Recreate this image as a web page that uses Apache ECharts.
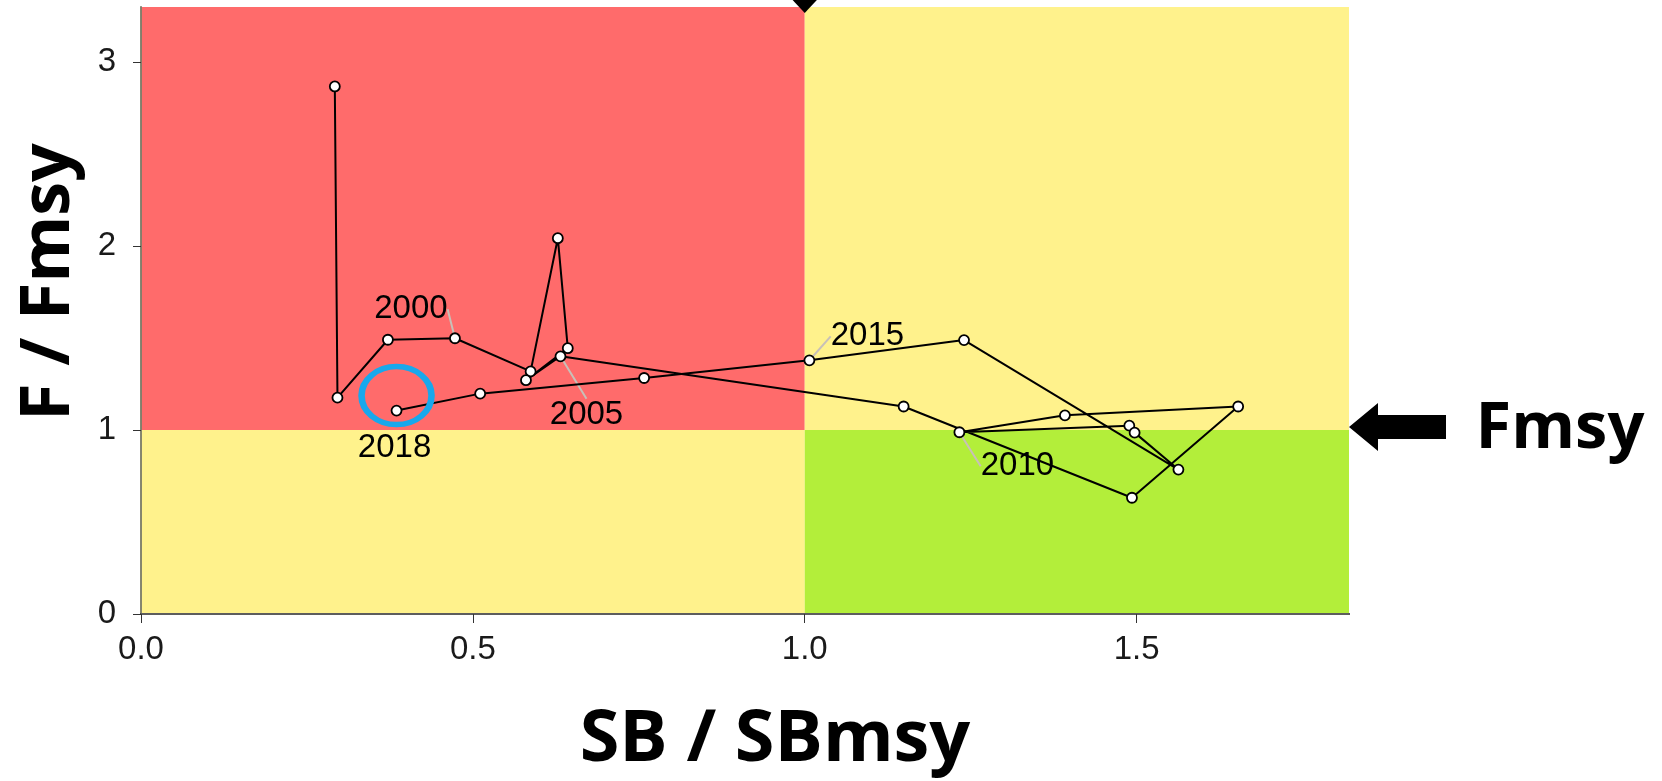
<!DOCTYPE html>
<html><head><meta charset="utf-8">
<script src="https://cdn.jsdelivr.net/npm/echarts@6/dist/echarts.min.js"></script>
<style>html,body{margin:0;padding:0;background:#fff}#c{width:1662px;height:781px}</style>
</head><body><div id="c"></div>
<script>
// ---- data ----
const years   = [1997,1998,1999,2000,2001,2002,2003,2004,2005,2006,2007,2008,2009,2010,2011,2012,2013,2014,2015,2016,2017,2018];
const sbRatio = [0.292,0.296,0.372,0.473,0.587,0.628,0.643,0.580,0.632,1.149,1.493,1.653,1.392,1.233,1.489,1.497,1.563,1.240,1.007,0.758,0.511,0.385];
const fRatio  = [2.868,1.176,1.491,1.499,1.319,2.043,1.445,1.271,1.401,1.128,0.632,1.128,1.080,0.988,1.024,0.986,0.785,1.489,1.379,1.283,1.198,1.106];
const labelledYears = [2000,2005,2010,2015,2018];
const circledYear = 2018;
const xTicks = [0,0.5,1,1.5];
const yTicks = [0,1,2,3];
const xMax = 1.82, yMax = 3.3;
const sbRef = 1, fRef = 1;
const xTitle = 'SB / SBmsy', yTitle = 'F / Fmsy', refLabel = 'Fmsy';

// ---- styles / layout ----
const RED = '#FF6B6B', YEL = '#FFF28C', GRN = '#B3EE3A';
const labelOffsets = {2000:[-44,-29], 2005:[26,59], 2010:[58,34], 2015:[58,-24], 2018:[-2,37]};
const leader = {2000:true, 2005:true, 2010:true, 2015:true, 2018:false};

const chart = echarts.init(document.getElementById('c'), null, {renderer:'canvas'});
const pts = years.map((y,i)=>[sbRatio[i], fRatio[i], y]);
const labelData = labelledYears.map(y=>{
  const i = years.indexOf(y);
  return {value:[sbRatio[i], fRatio[i], y], labelLine:{show:leader[y]}};
});
const ci = years.indexOf(circledYear);

const tickFont = {fontFamily:'Liberation Sans, Arial, sans-serif', fontSize:33, color:'#1a1a1a'};
chart.setOption({
  animation:false,
  backgroundColor:'#fff',
  grid:{left:141, right:313, top:7, bottom:167, show:false},
  xAxis:[{
    type:'value', min:0, max:xMax, interval:0.5, z:5,
    axisLine:{show:true, onZero:false, lineStyle:{color:'#111', width:2}},
    axisTick:{show:true, length:9, lineStyle:{color:'#333'}, customValues:xTicks},
    axisLabel:{show:true, margin:19, customValues:xTicks, formatter:v=>v.toFixed(1), ...tickFont},
    splitLine:{show:false}
  },{
    type:'value', position:'top', min:0, max:xMax, z:5,
    axisLine:{show:true, lineStyle:{color:'#777', width:1.5}},
    axisTick:{show:false}, axisLabel:{show:false}, splitLine:{show:false}
  }],
  yAxis:[{
    type:'value', min:0, max:yMax, interval:1, z:5,
    axisLine:{show:true, onZero:false, lineStyle:{color:'#111', width:1.5}},
    axisTick:{show:true, length:8, lineStyle:{color:'#333'}, customValues:yTicks},
    axisLabel:{show:true, margin:25, customValues:yTicks, formatter:v=>String(v), ...tickFont},
    splitLine:{show:false}
  },{
    type:'value', position:'right', min:0, max:yMax, z:5,
    axisLine:{show:true, lineStyle:{color:'#9a9a80', width:1.5}},
    axisTick:{show:false}, axisLabel:{show:false}, splitLine:{show:false}
  }],
  series:[
    {
      type:'line', data:[], z:1, silent:true,
      markArea:{silent:true, itemStyle:{opacity:1}, data:[
        [{xAxis:0, yAxis:fRef, itemStyle:{color:RED}}, {xAxis:sbRef, yAxis:yMax}],
        [{xAxis:sbRef, yAxis:fRef, itemStyle:{color:YEL}}, {xAxis:xMax, yAxis:yMax}],
        [{xAxis:0, yAxis:0, itemStyle:{color:YEL}}, {xAxis:sbRef, yAxis:fRef}],
        [{xAxis:sbRef, yAxis:0, itemStyle:{color:GRN}}, {xAxis:xMax, yAxis:fRef}]
      ]}
    },
    {
      type:'scatter', data:labelData, z:2, symbolSize:1, itemStyle:{color:'rgba(0,0,0,0)', opacity:1},
      label:{show:true, position:'inside', formatter:p=>String(p.value[2]),
        fontFamily:'Liberation Sans, Arial, sans-serif', fontSize:33, color:'#000', textBorderWidth:0},
      labelLine:{show:true, lineStyle:{color:'#c8c0b8', width:2}},
      labelLayout:p=>{const y = labelledYears[p.dataIndex]; const o = labelOffsets[y]; return {dx:o[0], dy:o[1]};}
    },
    {
      type:'line', data:pts, z:3, showSymbol:true, symbol:'circle', symbolSize:10,
      lineStyle:{color:'#000', width:2},
      itemStyle:{color:'#fff', borderColor:'#000', borderWidth:1.8}
    },
    {
      type:'scatter', z:4, data:[[sbRatio[ci], fRatio[ci]]], symbol:'circle', symbolSize:[70,58], symbolOffset:[0,-15],
      itemStyle:{color:'rgba(0,0,0,0)', borderColor:'#18A8EC', borderWidth:6, opacity:1}
    }
  ]
});

const pTop = chart.convertToPixel({gridIndex:0}, [sbRef, yMax]);
const pF = chart.convertToPixel({gridIndex:0}, [xMax, fRef]);
const tx = pF[0], ty = pF[1]-3;
chart.setOption({graphic:[
  {type:'polygon', z:20, shape:{points:[[pTop[0]-14,-2],[pTop[0]+14,-2],[pTop[0], pTop[1]+6]]}, style:{fill:'#000'}},
  {type:'polygon', z:20, shape:{points:[[tx,ty],[tx+29,ty-24],[tx+29,ty-12],[tx+97,ty-12],[tx+97,ty+12],[tx+29,ty+12],[tx+29,ty+24]]}, style:{fill:'#000'}},
  {type:'text', z:20, x:1560, y:ty+2, style:{text:refLabel, fill:'#000', font:'bold 65px "Open Sans", sans-serif', textAlign:'center', textVerticalAlign:'middle'}},
  {type:'text', z:20, x:775, y:740, style:{text:xTitle, fill:'#000', font:'bold 72px "Open Sans", sans-serif', textAlign:'center', textVerticalAlign:'middle'}},
  {type:'text', z:20, x:50, y:282, rotation:Math.PI/2, style:{text:yTitle, fill:'#000', font:'bold 68px "Open Sans", sans-serif', textAlign:'center', textVerticalAlign:'middle'}}
]});
</script></body></html>
